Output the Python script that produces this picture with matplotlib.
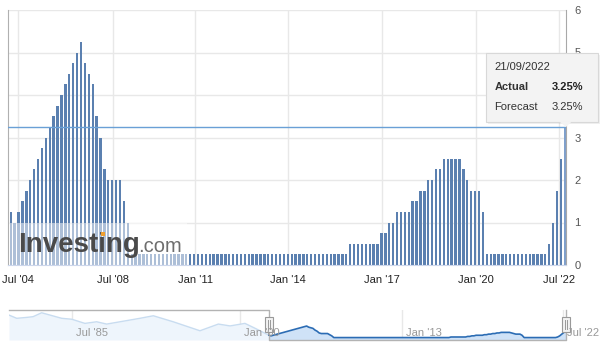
import matplotlib
matplotlib.use('Agg')
import matplotlib.pyplot as plt
from matplotlib.patches import Rectangle, Polygon

plt.rcParams['font.family'] = ['Liberation Sans', 'DejaVu Sans']

# Fed rate decisions, one bar per meeting (ordinal axis), Jul 2004 - Sep 2022
rates = [
    # 2004 - 2008
    1.25, 1.0, 1.25, 1.5, 1.75, 2.0, 2.25, 2.5, 2.75, 3.0, 3.25, 3.5, 3.75, 4.0, 4.25, 4.5,
    4.75, 5.0, 5.25, 4.75, 4.5, 4.25, 3.5, 3.0, 2.25, 2.0, 2.0, 2.0, 2.0, 1.5, 1.0,
    # Dec 2008 - Oct 2015
    0.25,
    0.25, 0.25, 0.25, 0.25, 0.25, 0.25, 0.25, 0.25,
    0.25, 0.25, 0.25, 0.25, 0.25, 0.25, 0.25, 0.25,
    0.25, 0.25, 0.25, 0.25, 0.25, 0.25, 0.25, 0.25,
    0.25, 0.25, 0.25, 0.25, 0.25, 0.25, 0.25, 0.25,
    0.25, 0.25, 0.25, 0.25, 0.25, 0.25, 0.25, 0.25,
    0.25, 0.25, 0.25, 0.25, 0.25, 0.25, 0.25, 0.25,
    0.25, 0.25, 0.25, 0.25, 0.25, 0.25, 0.25,
    # Dec 2015 - Jan 2020
    0.5, 0.5, 0.5, 0.5, 0.5, 0.5, 0.5, 0.5,
    0.75, 0.75, 1.0, 1.0, 1.25, 1.25, 1.25, 1.25,
    1.5, 1.5, 1.75, 1.75, 2.0, 2.0, 2.25, 2.25,
    2.5, 2.5, 2.5, 2.5, 2.5, 2.25, 2.0, 1.75, 1.75, 1.75,
    # Mar 2020 - Jan 2022
    1.25,
    0.25, 0.25, 0.25, 0.25, 0.25, 0.25, 0.25, 0.25,
    0.25, 0.25, 0.25, 0.25, 0.25, 0.25, 0.25, 0.25,
    # 2022
    0.5, 1.0, 1.75, 2.5, 3.25,
]
idx = list(range(len(rates)))

tick_pos = [1.9, 26.1, 47.3, 71.1, 95.2, 119.3, 140.4]
tick_labels = ["Jul '04", "Jul '08", "Jan '11", "Jan '14", "Jan '17", "Jan '20", "Jul '22"]
y_ticks = [0, 1, 2, 3, 4, 5, 6]

# navigator: earlier history (in meeting-index units, negative = before Jul '04)
nav_hist_pos = [-124.3, -120.6, -115.8, -112.8, -108.7, -104.7, -99.1, -94.3, -88.0, -82.4,
                -77.6, -71.2, -61.7, -55.3, -45.8, -33.0, -24.2, -18.6, -11.5, -6.7]
nav_hist_vals = [10.0, 8.6, 9.0, 9.3, 11.0, 10.0, 8.6, 8.2, 6.4, 7.1,
                 6.1, 7.1, 8.6, 9.7, 7.1, 3.2, 6.1, 5.3, 6.4, 4.3]
nav_tick_pos = [-94.2, -13.9, 63.6, 140.6]
nav_tick_labels = ["Jul '85", "Jan '00", "Jan '13", "Jul '22"]

tip_date = '21/09/2022'
tip_actual = '3.25%'
tip_forecast = '3.25%'

W, H = 601, 348
fig = plt.figure(figsize=(W / 100, H / 100), dpi=100)

def fx(x):
    return x / W

def fy(y):
    return 1 - y / H

# ---- main chart ----
ax = fig.add_axes([fx(8), fy(265), (566 - 8) / W, (265 - 10) / H])
bar_colors = ['#5b80b0'] * (len(rates) - 1) + ['#7fa0cc']
ax.bar(idx, rates, width=0.6, color=bar_colors, zorder=2)
ax.set_xlim(-0.7, len(rates) - 0.7)
ax.set_ylim(0, 6)
ax.set_xticks(tick_pos, tick_labels)
ax.set_yticks(y_ticks)
ax.yaxis.tick_right()
ax.tick_params(axis='x', length=0, pad=7, labelsize=8, labelcolor='#222222')
ax.tick_params(axis='y', length=0, pad=6, labelsize=8, labelcolor='#555555')
ax.grid(True, color='#e8e8e8', lw=1, zorder=0)
ax.set_axisbelow(True)
ax.spines['top'].set_visible(False)
ax.spines['left'].set_color('#b0b0b0')
ax.spines['right'].set_color('#a8a8a8')
ax.spines['bottom'].set_color('#ccd6eb')

# crosshair on the hovered (last) point
ax.axhline(rates[-1], color='#6aa0d6', lw=1, zorder=3)

# watermark
ax.add_patch(Rectangle((0.002, 0), 0.319, 0.165, transform=ax.transAxes,
                       facecolor='white', alpha=0.5, lw=0, zorder=4))
ax.text(0.018, 0.051, 'Investing', transform=ax.transAxes, fontsize=20, fontweight='bold',
        color='#4a4a4a', va='baseline', ha='left', zorder=5)
ax.text(0.233, 0.051, '.com', transform=ax.transAxes, fontsize=14.5,
        color='#6e6e6e', va='baseline', ha='left', zorder=5)
ax.add_patch(Rectangle((0.166, 0.114), 0.007, 0.016, transform=ax.transAxes,
                       facecolor='#f0a030', lw=0, zorder=6))

# ---- navigator ----
nax = fig.add_axes([fx(9), fy(340), (566 - 9) / W, 30 / H])
nax.set_xlim(-124.3, 142.0)
nax.set_ylim(-0.8, 12.2)
nax.axis('off')
for p in nav_tick_pos:
    nax.axvline(p, color='#e8e8e8', lw=1, zorder=0)
hx = nav_hist_pos + [0]
hy = nav_hist_vals + [rates[0]]
nax.fill_between(hx, hy, -0.8, color='#eef5fc', lw=0, zorder=1)
nax.plot(hx, hy, color='#c8dcf0', lw=1, zorder=2)
nax.fill_between(idx, rates, -0.8, color='#cfe2f7', lw=0, zorder=1)
nax.plot(idx, rates, color='#2b6cb4', lw=1.2, zorder=2)

bt = nax.get_xaxis_transform()
x_left = nax.get_xlim()[0]
x_a, x_b = idx[0], idx[-1]
nax.plot([x_left, x_a, x_a, x_b, x_b], [1, 1, 0, 0, 1], transform=bt,
         color='#b3b3b3', lw=1, clip_on=False, zorder=3)
for hxp in (x_a, x_b):
    nax.add_patch(Rectangle((hxp - 1.9, 0.27), 3.8, 0.5, transform=bt,
                            facecolor='#f2f2f2', edgecolor='#999999', lw=0.8,
                            clip_on=False, zorder=4))
    for d in (-0.6, 0.6):
        nax.plot([hxp + d, hxp + d], [0.38, 0.66], transform=bt, color='#999999',
                 lw=0.7, clip_on=False, zorder=5)
for p, lab in zip(nav_tick_pos, nav_tick_labels):
    nax.text(p + 1.9, 0.25, lab, transform=bt, ha='left', va='center',
             fontsize=8, color='#999999', zorder=6, clip_on=False)

# ---- tooltip ----
x0, x1, y0, y1 = 486, 598, 52.7, 121.7
for off, a in ((2, 0.06), (1, 0.1)):
    fig.patches.append(Rectangle((fx(x0 + off), fy(y1 + off)), (x1 - x0) / W, (y1 - y0) / H,
                                 transform=fig.transFigure, facecolor='black', alpha=a,
                                 lw=0, zorder=10))
fig.patches.append(Rectangle((fx(x0), fy(y1)), (x1 - x0) / W, (y1 - y0) / H,
                             transform=fig.transFigure, facecolor='#f3f3f3',
                             edgecolor='#d8d8d8', lw=0.8, zorder=11))
fig.patches.append(Polygon([(fx(559), fy(121.2)), (fx(566), fy(127)), (fx(572), fy(121.2))],
                           closed=True, transform=fig.transFigure, facecolor='#f3f3f3',
                           edgecolor='none', zorder=12))
fig.text(fx(494.5), fy(67.5), tip_date, fontsize=8, color='#333333', va='center', zorder=13)
fig.text(fx(494.5), fy(87.5), 'Actual', fontsize=8, fontweight='bold', color='#333333',
         va='center', zorder=13)
fig.text(fx(583.5), fy(87.5), tip_actual, fontsize=8, fontweight='bold', color='#222222',
         va='center', ha='right', zorder=13)
fig.text(fx(494.5), fy(107), 'Forecast', fontsize=8, color='#333333', va='center', zorder=13)
fig.text(fx(583.5), fy(107), tip_forecast, fontsize=8, color='#333333', va='center',
         ha='right', zorder=13)

fig.savefig('out.png', dpi=100)
